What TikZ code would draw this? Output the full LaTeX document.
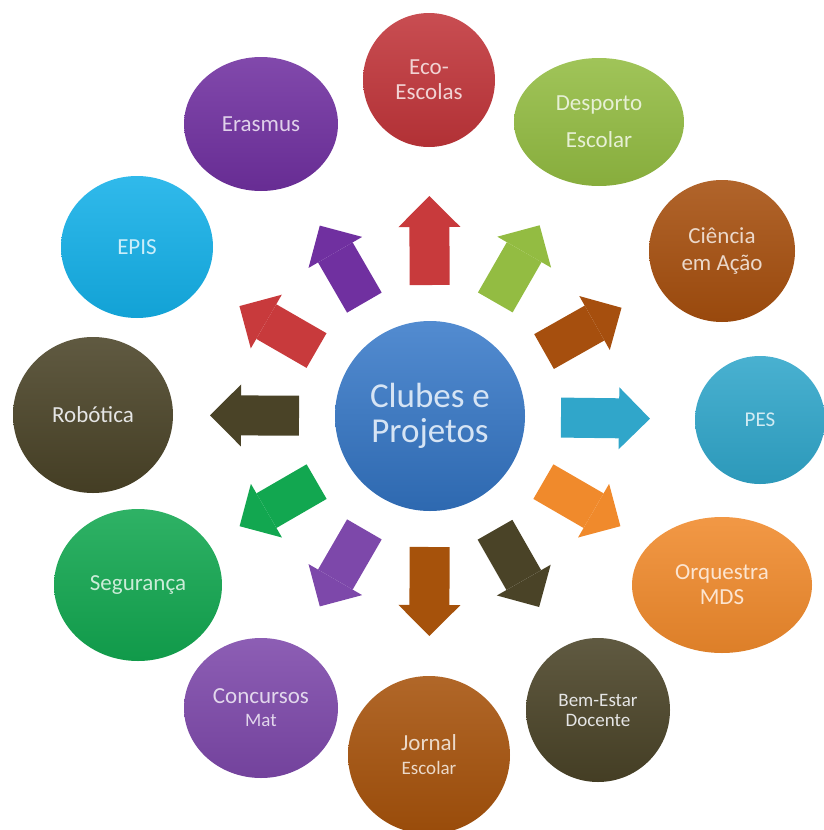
\documentclass[tikz,border=0pt]{standalone}
\usepackage{fontspec}
\setmainfont{Carlito}
\usetikzlibrary{arrows.meta,calc,shapes.geometric}

\definecolor{cBlue}{HTML}{3477C8}
\definecolor{cEco}{HTML}{C1353A}
\definecolor{cDesp}{HTML}{93BC42}
\definecolor{cCien}{HTML}{A64F0E}
\definecolor{cPes}{HTML}{30A6CA}
\definecolor{cOrq}{HTML}{F08A2C}
\definecolor{cBem}{HTML}{4A4327}
\definecolor{cJor}{HTML}{A6520B}
\definecolor{cConc}{HTML}{7D48AA}
\definecolor{cSeg}{HTML}{12A750}
\definecolor{cRob}{HTML}{4A4327}
\definecolor{cEpis}{HTML}{14B0E8}
\definecolor{cEras}{HTML}{7030A0}
\definecolor{cArrRed}{HTML}{C83A3C}

\tikzset{
  bubble/.style n args={3}{ellipse, inner sep=0pt, align=center,
    minimum width=#2, minimum height=#3,
    top color=#1!88!white, bottom color=#1!92!black,
    text=white!78!#1, font=\fontsize{23}{25}\selectfont},
  blockarrow/.style={line width=40pt, draw=#1,
    -{Triangle[width=62pt,length=31pt,line width=0pt]}},
}

\begin{document}
\begin{tikzpicture}[x=1pt,y=-1pt]
\useasboundingbox (0,0) rectangle (824,830);

% centre
\node[circle, inner sep=0pt, minimum size=190pt, top color=cBlue!85!white,
  bottom color=cBlue!88!black, text=white!80!cBlue, align=center,
  font=\fontsize{35}{35}\selectfont] (c) at (430,416) {Clubes e\\Projetos};

% outer nodes
\node[bubble={cEco}{132pt}{134pt}] (eco) at (429,80) {Eco-\\Escolas};
\node[bubble={cDesp}{170pt}{128pt}, font=\fontsize{23}{37}\selectfont] (desp) at (599,122) {Desporto\\Escolar};
\node[bubble={cCien}{146pt}{142pt}, font=\fontsize{23}{27}\selectfont] (cien) at (722,251) {Ciência\\em Ação};
\node[bubble={cPes}{130pt}{128pt}, font=\fontsize{21}{24}\selectfont] (pes) at (760,420) {PES};
\node[bubble={cOrq}{180pt}{136pt}] (orq) at (722,585) {Orquestra\\MDS};
\node[bubble={cBem}{144pt}{144pt}, text=white!80!gray, font=\fontsize{19}{20}\selectfont] (bem) at (598,710) {Bem-Estar\\Docente};
\node[bubble={cJor}{162pt}{158pt}, font=\fontsize{23}{24}\selectfont] (jor) at (429,755) {Jornal\\{\fontsize{19}{20}\selectfont Escolar}};
\node[bubble={cConc}{154pt}{140pt}, font=\fontsize{23}{23}\selectfont] (conc) at (261,708) {Concursos\\{\fontsize{19}{20}\selectfont Mat}};
\node[bubble={cSeg}{168pt}{152pt}] (seg) at (138,585) {Segurança};
\node[bubble={cRob}{160pt}{156pt}, text=white!80!gray] (rob) at (93,415) {Robótica};
\node[bubble={cEpis}{152pt}{142pt}] (epis) at (137,247) {EPIS};
\node[bubble={cEras}{154pt}{134pt}] (eras) at (261,124) {Erasmus};

% block arrows
\foreach \o/\col in {eco/cArrRed, desp/cDesp, cien/cCien, pes/cPes, orq/cOrq,
  bem/cBem, jor/cJor, conc/cConc, seg/cSeg, rob/cRob, epis/cArrRed, eras/cEras}{
  \draw[blockarrow=\col] ($(c.center)!131pt!(\o.center)$) -- ($(c.center)!220pt!(\o.center)$);
}
\end{tikzpicture}
\end{document}
